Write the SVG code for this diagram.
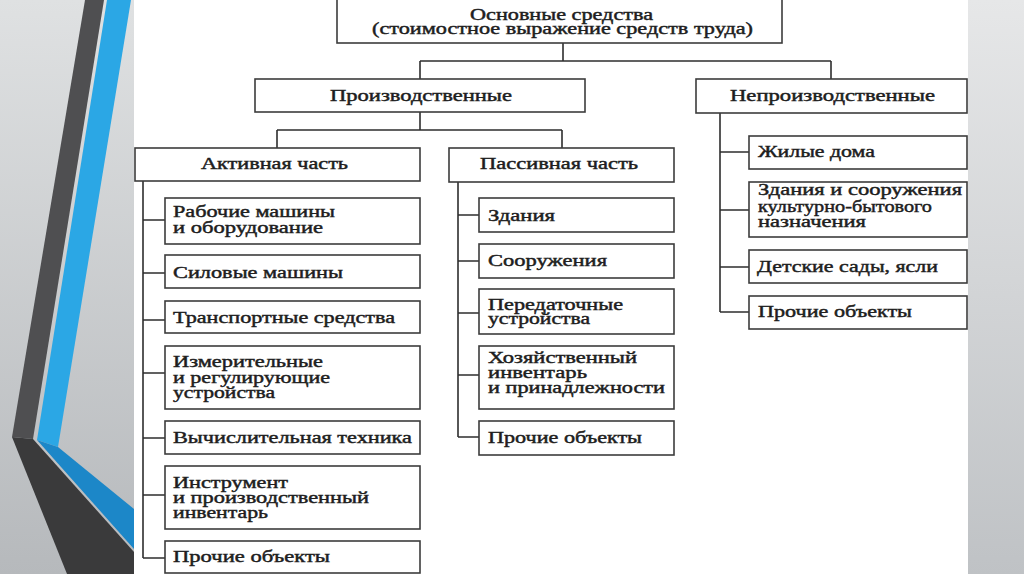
<svg xmlns="http://www.w3.org/2000/svg" width="1024" height="574" viewBox="0 0 1024 574">
<defs>
<linearGradient id="bgL" x1="0" y1="0" x2="0" y2="1"><stop offset="0" stop-color="#dfe1e2"/><stop offset="1" stop-color="#b6b9bc"/></linearGradient>
<linearGradient id="bgR" x1="0" y1="0" x2="0" y2="1"><stop offset="0" stop-color="#e6e7e8"/><stop offset="1" stop-color="#bfc2c5"/></linearGradient>
<style>
.box{fill:#fff;stroke:#3c3c3c;stroke-width:1.6}
.ln{fill:none;stroke:#2e2e2e;stroke-width:1.6}
text{font-family:"Liberation Serif","Times New Roman",serif;font-size:16.5px;fill:#1e1e1e;stroke:#1e1e1e;stroke-width:0.45px}
</style>
</defs>
<rect x="0" y="0" width="1024" height="574" fill="url(#bgL)"/>
<rect x="968" y="0" width="56" height="574" fill="url(#bgR)"/>
<g id="stripes">
<polygon points="85,0 104,0 33,439 12,437" fill="#4f4f51"/>
<polygon points="12,437 33,439 134,552 134,574 67,574" fill="#3a3a3b"/>
<polygon points="107,0 131,0 58,447 37,440" fill="#2ba7e5"/>
<polygon points="37,440 58,447 134,509 134,549" fill="#1c87c8"/>
</g>
<rect x="134" y="0" width="834" height="574" fill="#fff"/>
<g id="connectors" class="ln">
<path d="M563 43V61M420 61H831M420 61V79M831 61V79"/>
<path d="M420 112V130M277 130H562M277 130V148M562 130V148"/>
<path d="M143 181V558M143 220H165M143 273H165M143 320H165M143 373H165M143 438H165M143 495H165M143 558H165"/>
<path d="M458 182V437M458 215H479M458 261H479M458 313H479M458 375H479M458 437H479"/>
<path d="M720 113V312M720 152H749M720 210H749M720 267H749M720 312H749"/>
</g>
<g id="root"><rect class="box" x="337" y="-2" width="445" height="45"/>
<text x="470" y="20" textLength="183" lengthAdjust="spacingAndGlyphs">Основные средства</text>
<text x="372" y="34" textLength="381" lengthAdjust="spacingAndGlyphs">(стоимостное выражение средств труда)</text></g>
<g id="prod"><rect class="box" x="255" y="79" width="330" height="33"/>
<text x="330" y="101" textLength="182" lengthAdjust="spacingAndGlyphs">Производственные</text></g>
<g id="nonprod"><rect class="box" x="696" y="79" width="271" height="34"/>
<text x="730" y="101" textLength="205" lengthAdjust="spacingAndGlyphs">Непроизводственные</text></g>
<g id="active"><rect class="box" x="135" y="148" width="285" height="33"/>
<text x="201" y="169" textLength="147" lengthAdjust="spacingAndGlyphs">Активная часть</text></g>
<g id="passive"><rect class="box" x="449" y="148" width="225" height="34"/>
<text x="480" y="169" textLength="158" lengthAdjust="spacingAndGlyphs">Пассивная часть</text></g>
<g id="a1"><rect class="box" x="165" y="198" width="255" height="46"/>
<text x="173" y="217" textLength="162" lengthAdjust="spacingAndGlyphs">Рабочие машины</text>
<text x="173" y="233" textLength="150" lengthAdjust="spacingAndGlyphs">и оборудование</text></g>
<g id="a2"><rect class="box" x="165" y="255" width="255" height="33"/>
<text x="173" y="278" textLength="170" lengthAdjust="spacingAndGlyphs">Силовые машины</text></g>
<g id="a3"><rect class="box" x="165" y="301" width="255" height="32"/>
<text x="173" y="323" textLength="222" lengthAdjust="spacingAndGlyphs">Транспортные средства</text></g>
<g id="a4"><rect class="box" x="165" y="346" width="255" height="63"/>
<text x="173" y="367" textLength="150" lengthAdjust="spacingAndGlyphs">Измерительные</text>
<text x="173" y="383" textLength="157" lengthAdjust="spacingAndGlyphs">и регулирующие</text>
<text x="173" y="398" textLength="102" lengthAdjust="spacingAndGlyphs">устройства</text></g>
<g id="a5"><rect class="box" x="165" y="421" width="255" height="33"/>
<text x="173" y="443" textLength="239" lengthAdjust="spacingAndGlyphs">Вычислительная техника</text></g>
<g id="a6"><rect class="box" x="165" y="466" width="255" height="63"/>
<text x="173" y="488" textLength="115" lengthAdjust="spacingAndGlyphs">Инструмент</text>
<text x="173" y="503" textLength="196" lengthAdjust="spacingAndGlyphs">и производственный</text>
<text x="173" y="518" textLength="95" lengthAdjust="spacingAndGlyphs">инвентарь</text></g>
<g id="a7"><rect class="box" x="165" y="541" width="255" height="32"/>
<text x="173" y="562" textLength="157" lengthAdjust="spacingAndGlyphs">Прочие объекты</text></g>
<g id="p1"><rect class="box" x="479" y="198" width="195" height="34"/>
<text x="488" y="221" textLength="67" lengthAdjust="spacingAndGlyphs">Здания</text></g>
<g id="p2"><rect class="box" x="479" y="244" width="195" height="34"/>
<text x="488" y="266" textLength="119" lengthAdjust="spacingAndGlyphs">Сооружения</text></g>
<g id="p3"><rect class="box" x="479" y="289" width="195" height="45"/>
<text x="488" y="310" textLength="135" lengthAdjust="spacingAndGlyphs">Передаточные</text>
<text x="488" y="324" textLength="102" lengthAdjust="spacingAndGlyphs">устройства</text></g>
<g id="p4"><rect class="box" x="479" y="346" width="195" height="63"/>
<text x="488" y="363" textLength="149" lengthAdjust="spacingAndGlyphs">Хозяйственный</text>
<text x="488" y="378" textLength="99" lengthAdjust="spacingAndGlyphs">инвентарь</text>
<text x="488" y="393" textLength="177" lengthAdjust="spacingAndGlyphs">и принадлежности</text></g>
<g id="p5"><rect class="box" x="479" y="421" width="195" height="34"/>
<text x="488" y="443" textLength="154" lengthAdjust="spacingAndGlyphs">Прочие объекты</text></g>
<g id="n1"><rect class="box" x="749" y="136" width="218" height="33"/>
<text x="758" y="157" textLength="117" lengthAdjust="spacingAndGlyphs">Жилые дома</text></g>
<g id="n2"><rect class="box" x="749" y="182" width="218" height="55"/>
<text x="758" y="195" textLength="204" lengthAdjust="spacingAndGlyphs">Здания и сооружения</text>
<text x="758" y="212" textLength="174" lengthAdjust="spacingAndGlyphs">культурно-бытового</text>
<text x="758" y="227" textLength="108" lengthAdjust="spacingAndGlyphs">назначения</text></g>
<g id="n3"><rect class="box" x="749" y="250" width="218" height="33"/>
<text x="757" y="272" textLength="181" lengthAdjust="spacingAndGlyphs">Детские сады, ясли</text></g>
<g id="n4"><rect class="box" x="749" y="296" width="218" height="33"/>
<text x="758" y="317" textLength="154" lengthAdjust="spacingAndGlyphs">Прочие объекты</text></g>
</svg>
